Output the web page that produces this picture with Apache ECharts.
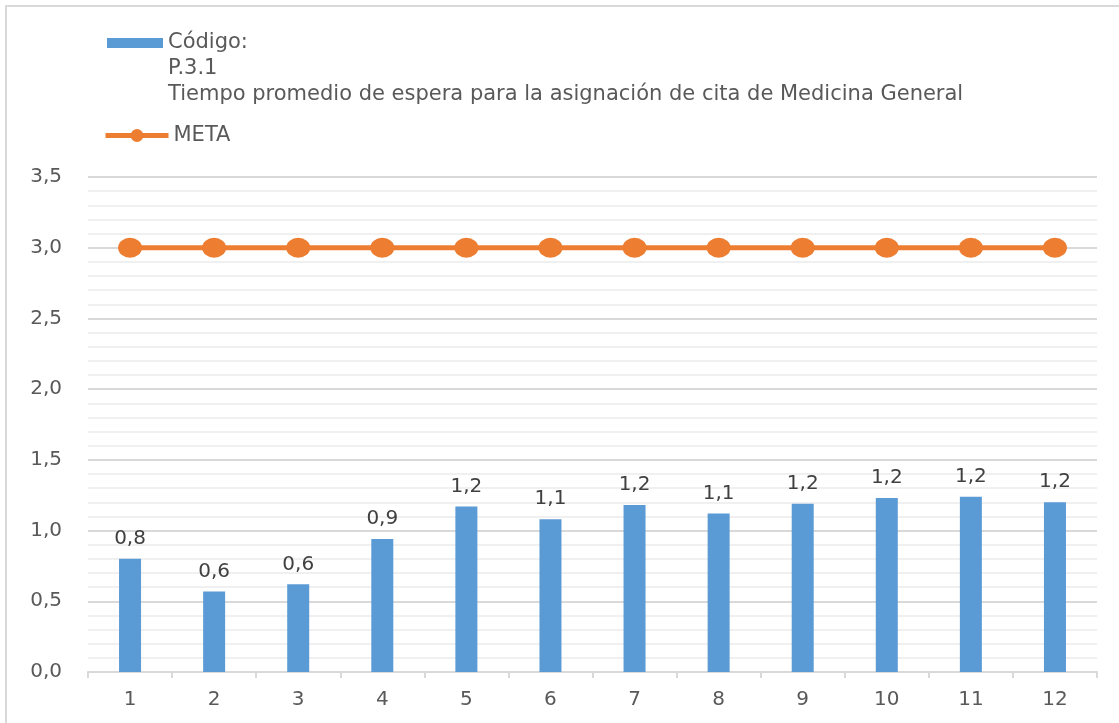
<!DOCTYPE html>
<html>
<head>
<meta charset="utf-8">
<script src="https://cdn.jsdelivr.net/npm/echarts@6/dist/echarts.min.js"></script>
<style>
  html, body { margin: 0; padding: 0; background: #fff; overflow: hidden; width: 1119px; height: 723px; }
  #frame { position: absolute; left: 5px; top: 5px; width: 1114px; height: 718px; box-sizing: border-box;
           border-left: 2px solid #d9d9d9; border-top: 2px solid #d9d9d9; }
  #main { position: absolute; left: 0; top: 0; width: 1119px; height: 723px; }
</style>
</head>
<body>
<div id="frame"></div>
<div id="main"></div>
<script>
// datos del indicador
var meses = ['1', '2', '3', '4', '5', '6', '7', '8', '9', '10', '11', '12'];
var tiempoPromedio = [0.80, 0.57, 0.62, 0.94, 1.17, 1.08, 1.18, 1.12, 1.19, 1.23, 1.24, 1.20];
var meta = [3, 3, 3, 3, 3, 3, 3, 3, 3, 3, 3, 3];
var nombreBarra = 'Código:\nP.3.1\nTiempo promedio de espera para la asignación de cita de Medicina General';
var nombreMeta = 'META';

var fuente = '"DejaVu Sans", sans-serif';
var gris = '#595959';
function coma(v) { return v.toFixed(1).replace('.', ','); }

var chart = echarts.init(document.getElementById('main'));
var option = {
    animation: false,
    textStyle: { fontFamily: fuente },
    legend: [
        {
            // leyenda de barras: el icono va en la primera linea
            orient: 'vertical',
            left: 107,
            top: -22,
            padding: 0,
            icon: 'rect',
            itemWidth: 56,
            itemHeight: 10,
            itemGap: 0,
            data: [nombreBarra],
            formatter: function (name) { return '\n\n' + name; },
            textStyle: { fontSize: 21, color: gris, lineHeight: 26 }
        },
        {
            orient: 'vertical',
            left: 103,
            top: 125,
            padding: 0,
            itemWidth: 63,
            itemHeight: 16,
            data: [nombreMeta],
            lineStyle: { width: 5 },
            textStyle: { fontSize: 21, color: gris }
        }
    ],
    grid: { left: 88, right: 22, top: 177, bottom: 51 },
    xAxis: {
        type: 'category',
        data: meses,
        axisLine: { lineStyle: { color: '#d9d9d9', width: 2 } },
        axisTick: { show: true, length: 6, lineStyle: { color: '#d9d9d9', width: 2 } },
        axisLabel: { fontSize: 20, color: gris, margin: 18 }
    },
    yAxis: {
        type: 'value',
        min: 0,
        max: 3.5,
        interval: 0.5,
        axisLine: { show: false },
        axisTick: { show: false },
        axisLabel: { fontSize: 20, color: gris, margin: 26, formatter: coma },
        splitLine: { lineStyle: { color: '#d9d9d9', width: 2 } },
        minorTick: { show: false, splitNumber: 5 },
        minorSplitLine: { show: true, lineStyle: { color: '#f0f0f0', width: 2 } }
    },
    series: [
        {
            name: nombreBarra,
            type: 'bar',
            data: tiempoPromedio,
            barWidth: 22,
            itemStyle: { color: '#5b9bd5' },
            label: {
                show: true,
                position: 'top',
                distance: 10,
                fontSize: 20,
                color: '#404040',
                formatter: function (p) { return coma(p.value); }
            }
        },
        {
            name: nombreMeta,
            type: 'line',
            data: meta,
            symbol: 'circle',
            symbolSize: [24, 20],
            lineStyle: { color: '#ed7d31', width: 5 },
            itemStyle: { color: '#ed7d31' }
        }
    ]
};
chart.setOption(option);
</script>
</body>
</html>
